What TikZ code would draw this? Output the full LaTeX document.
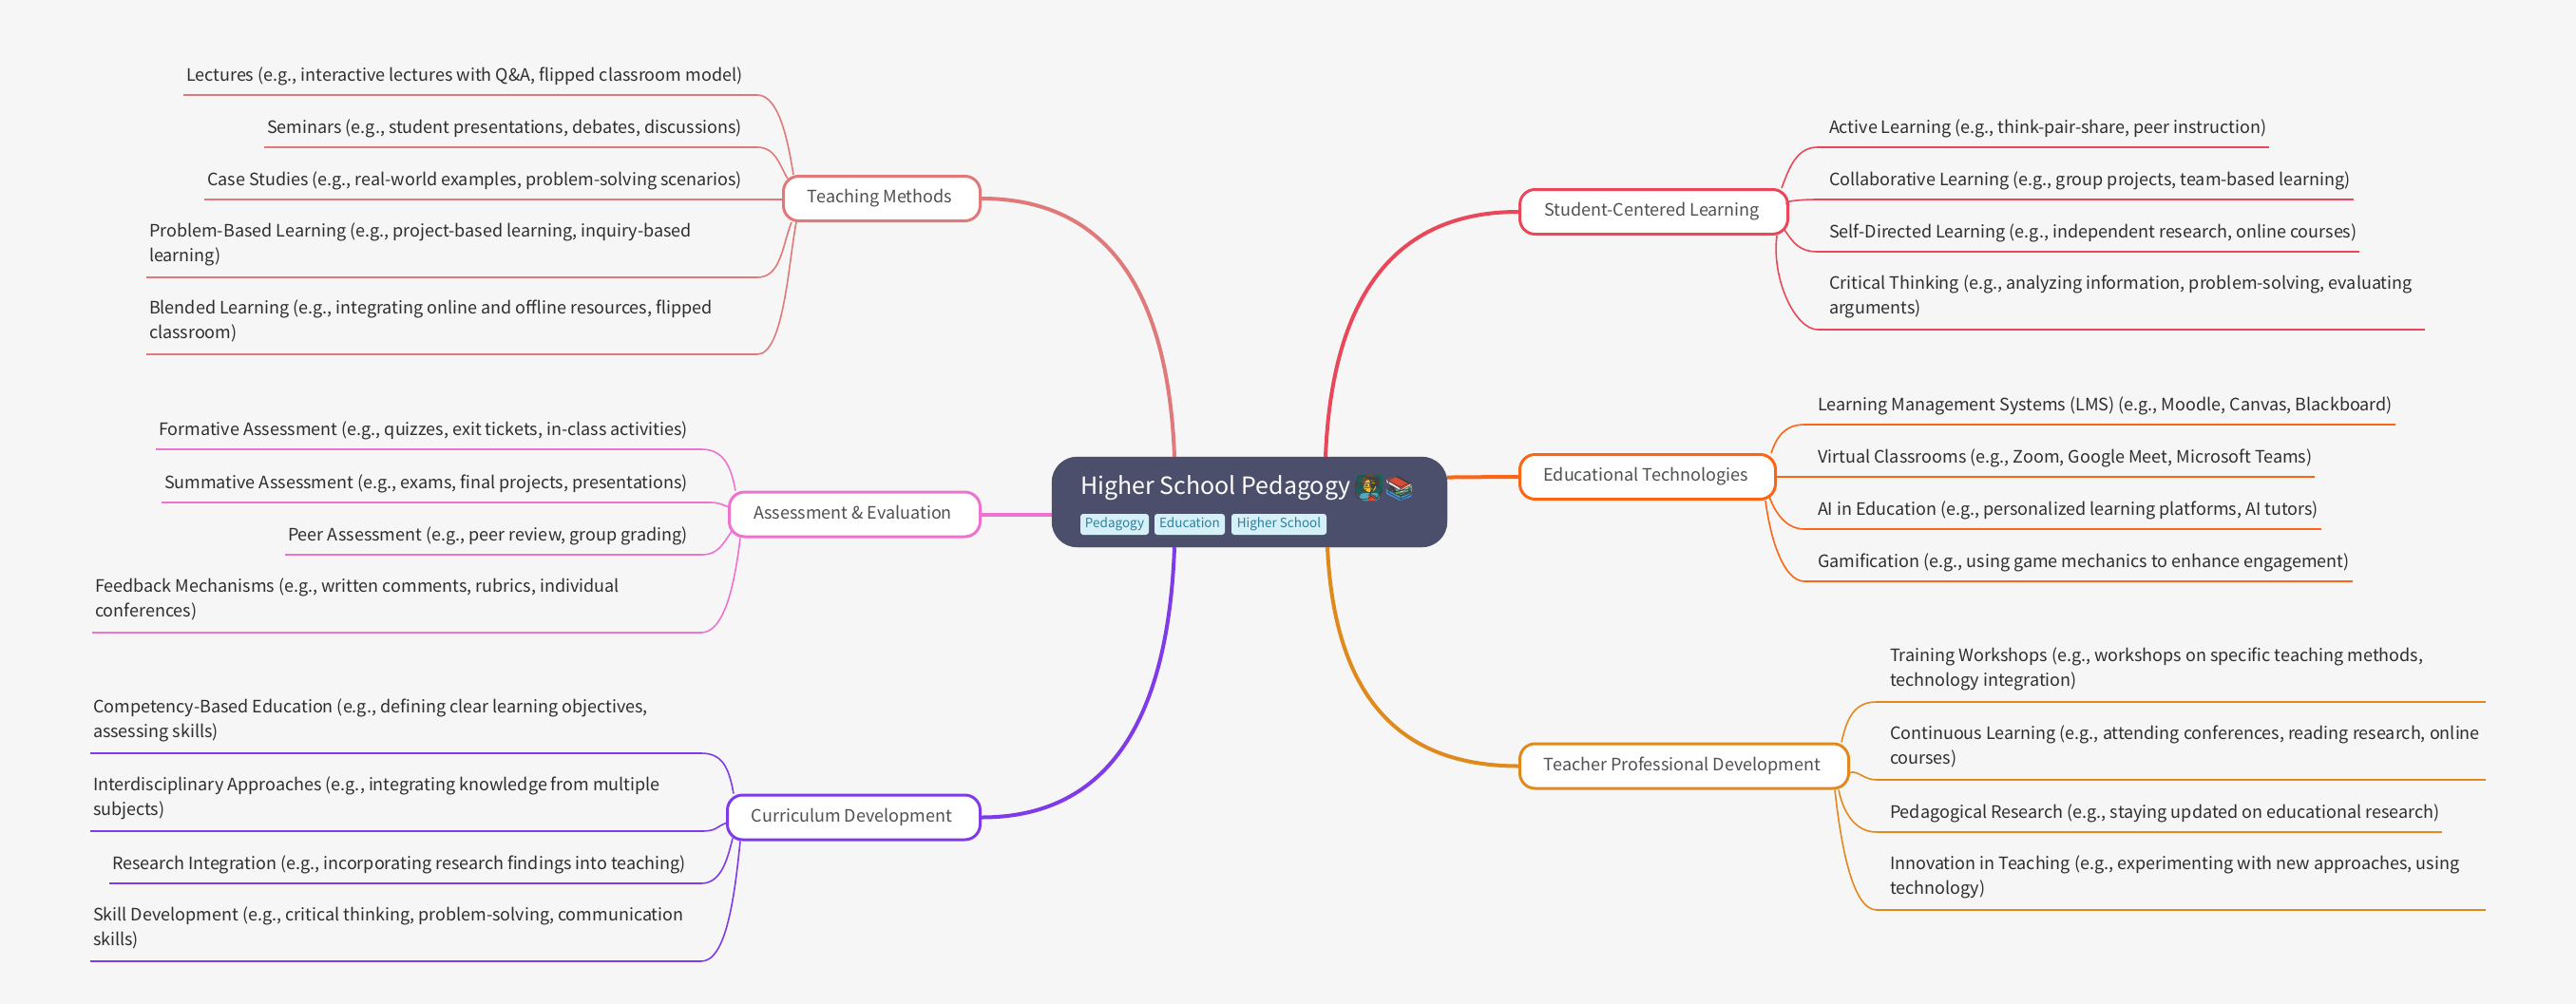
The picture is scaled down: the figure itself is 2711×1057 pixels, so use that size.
\documentclass[tikz,border=0pt]{standalone}
\usepackage{fontspec}
\setmainfont{Noto Sans CJK SC}
\newfontfamily\emo{Noto Emoji}
\definecolor{bgc}{HTML}{F6F6F6}
\definecolor{rootc}{HTML}{4C4F6B}
\definecolor{tagbg}{HTML}{D6F0F8}
\definecolor{tagfg}{HTML}{2F7F9C}
\definecolor{cteach}{HTML}{E07A7A}
\definecolor{cassess}{HTML}{EE72CF}
\definecolor{ccurr}{HTML}{7F3BE8}
\definecolor{cstud}{HTML}{E8485A}
\definecolor{cedu}{HTML}{FC6513}
\definecolor{cprof}{HTML}{E08A1E}
\definecolor{leaftext}{HTML}{2E2E2E}
\definecolor{nodetext}{HTML}{505050}
\definecolor{eboard}{HTML}{1F5F5A}
\definecolor{ejacket}{HTML}{57A6B5}
\definecolor{ehair}{HTML}{6B4A2F}
\definecolor{eface}{HTML}{FBC02D}
\definecolor{eredb}{HTML}{D84A3A}
\definecolor{eblue}{HTML}{3F8FD2}
\definecolor{egreen}{HTML}{5DA271}
\definecolor{epage}{HTML}{E8E8E8}
\tikzset{
  leaftxt/.style={anchor=base west,inner sep=0pt,outer sep=0pt,align=left,text=leaftext,font=\fontsize{18}{26}\selectfont},
  branch/.style={draw=#1,line width=3pt,fill=white,rounded corners=16pt,inner sep=0pt,text=nodetext,
     text height=13pt,text depth=4pt,font=\fontsize{18}{26}\selectfont,minimum height=47pt,
     execute at end node={\hspace{4pt}}},
  under/.style={line width=2pt},
  curve/.style={line width=1.6pt},
  trunk/.style={line width=4pt},
  tagbox/.style={fill=tagbg,rounded corners=3pt,inner sep=0pt,text=tagfg,minimum height=22pt,text height=10pt,text depth=3pt,font=\fontsize{13.5}{16}\selectfont},
  emoji/.style={anchor=base west,inner sep=0pt,text=black!75,font=\emo\fontsize{25}{28}\selectfont}
}
% [baseline above underline], name, colour, text x, underline y, left x, right x, text
\newcommand{\leafitem}[8][15]{%
  \node[leaftxt] (#2) at (#4,#5-#1) {#8};
  \coordinate (#2a) at (#6,#5);
  \coordinate (#2b) at (#7,#5);
  \draw[under,#3] (#2a) -- (#2b);
}
% name, colour, dx, second control, target: leaf on the left of its branch
\newcommand{\twig}[5]{\draw[curve,#2] (#1b) .. controls +(#3,0) and +(#4) .. (#5);}
% the same for a leaf on the right of its branch
\newcommand{\twigr}[5]{\draw[curve,#2] (#1a) .. controls +(#3,0) and +(#4) .. (#5);}
\begin{document}
\begin{tikzpicture}[x=1pt,y=-1pt]
\fill[bgc] (0,0) rectangle (2711,1057);
\useasboundingbox (0,0) rectangle (2711,1057);

\node[fill=rootc,rounded corners=27pt,minimum width=416pt,minimum height=95pt,inner sep=0pt] (root) at (1315,528.5) {};
\node[branch=cteach,minimum width=207pt] (teach) at (928,209) {Teaching Methods};
\node[branch=cassess,minimum width=264pt] (assess) at (899.5,541.5) {Assessment \& Evaluation};
\node[branch=ccurr,minimum width=266pt] (curr) at (898.5,860.5) {Curriculum Development};
\node[branch=cstud,minimum width=282pt] (stud) at (1740.5,223) {Student-Centered Learning};
\node[branch=cedu,minimum width=269pt] (edu) at (1734,502) {Educational Technologies};
\node[branch=cprof,minimum width=346pt] (prof) at (1772.5,806.5) {Teacher Professional Development};

\draw[trunk,cteach] (teach.east) .. controls +(128,0) and +(-7,-181) .. ([shift={(-79,0)}]root.north);
\draw[trunk,cstud] (stud.west) .. controls +(-128,0) and +(7,-172) .. ([shift={(80,0)}]root.north);
\draw[trunk,cedu] (edu.west) .. controls +(-35,0) and +(30,0) .. ([shift={(0,-26)}]root.east);
\draw[trunk,cassess] (assess.east) .. controls +(30,0) and +(-30,0) .. ([shift={(0,13)}]root.west);
\draw[trunk,ccurr] (curr.east) .. controls +(128,0) and +(-7,190) .. ([shift={(-79,0)}]root.south);
\draw[trunk,cprof] (prof.west) .. controls +(-128,0) and +(7,154) .. ([shift={(82,0)}]root.south);
\path[fill=rootc,rounded corners=27pt] (root.north west) rectangle (root.south east);

\node[anchor=base west,inner sep=0pt,text=white,font=\fontsize{25}{30}\selectfont] (title) at (1137,520) {Higher School Pedagogy};
% colour under the outline emoji
\fill[eboard] (1428,500) rectangle (1455,520);
\fill[ejacket,rounded corners=4pt] (1431,527) -- (1431,519) -- (1452,519) -- (1452,527) -- cycle;
\fill[ehair] (1441.5,507.5) circle (8);
\fill[eface] (1441.5,511.5) circle (6.5);
\fill[eredb] (1440,521) rectangle (1448,527);
\fill[eblue] (1459,515) -- (1474,523) -- (1486,519) -- (1485,523) -- (1473,527) -- (1459,520) -- cycle;
\fill[egreen] (1465,516) -- (1486,511) -- (1486,518) -- (1469,522) -- cycle;
\fill[epage] (1459,505) -- (1475,515) -- (1485,509) -- (1485,512) -- (1475,518) -- (1460,509) -- cycle;
\fill[eredb] (1459,505) -- (1469,501) -- (1485,509) -- (1475,515) -- cycle;
\node[emoji] (emoa) at (1425,522) {👨‍🏫};
\node[emoji] (emob) at (1457,522) {📚};
\node[tagbox,minimum width=72pt] (tag1) at (1173,552) {Pedagogy};
\node[tagbox,minimum width=74pt] (tag2) at (1252,552) {Education};
\node[tagbox,minimum width=100pt] (tag3) at (1346,552) {Higher School};

% Teaching Methods
\leafitem{ta}{cteach}{196}{100}{193}{797}{Lectures (e.g., interactive lectures with Q\&A, flipped classroom model)}
\leafitem{tb}{cteach}{281}{155}{278}{797}{Seminars (e.g., student presentations, debates, discussions)}
\leafitem{tc}{cteach}{218}{210}{215}{797}{Case Studies (e.g., real-world examples, problem-solving scenarios)}
\leafitem[16.5]{td}{cteach}{157}{292}{154}{797}{Problem-Based Learning (e.g., project-based learning, inquiry-based\\learning)}
\leafitem[16.5]{te}{cteach}{157}{373}{154}{797}{Blended Learning (e.g., integrating online and offline resources, flipped\\classroom)}
\twig{ta}{cteach}{24}{-5,-30}{[shift={(12,0)}]teach.north west}
\twig{tb}{cteach}{20}{-8,-12}{[shift={(6,4)}]teach.north west}
\draw[curve,cteach] (tcb) -- (tcb -| teach.west);
\twig{td}{cteach}{25}{-10,25}{[shift={(10,0)}]teach.south west}
\twig{te}{cteach}{28}{-8,40}{[shift={(15,0)}]teach.south west}

% Assessment & Evaluation
\leafitem{aa}{cassess}{167}{473}{164}{738}{Formative Assessment (e.g., quizzes, exit tickets, in-class activities)}
\leafitem{ab}{cassess}{173}{529}{170}{738}{Summative Assessment (e.g., exams, final projects, presentations)}
\leafitem{ac}{cassess}{303}{584}{300}{738}{Peer Assessment (e.g., peer review, group grading)}
\leafitem[16.5]{ad}{cassess}{100}{666}{97}{738}{Feedback Mechanisms (e.g., written comments, rubrics, individual\\conferences)}
\twig{aa}{cassess}{22}{-5,-28}{[shift={(8,0)}]assess.north west}
\twig{ab}{cassess}{16}{-12,-5}{[shift={(0,17)}]assess.north west}
\twig{ac}{cassess}{18}{-10,14}{[shift={(4,-7)}]assess.south west}
\twig{ad}{cassess}{24}{-6,50}{[shift={(13,0)}]assess.south west}

% Curriculum Development
\leafitem[16.5]{ca}{ccurr}{98}{793}{95}{738}{Competency-Based Education (e.g., defining clear learning objectives,\\assessing skills)}
\leafitem[16.5]{cb}{ccurr}{98}{875}{95}{738}{Interdisciplinary Approaches (e.g., integrating knowledge from multiple\\subjects)}
\leafitem{cc}{ccurr}{118}{930}{115}{738}{Research Integration (e.g., incorporating research findings into teaching)}
\leafitem[16.5]{cd}{ccurr}{98}{1012}{95}{738}{Skill Development (e.g., critical thinking, problem-solving, communication\\skills)}
\twig{ca}{ccurr}{22}{-5,-28}{[shift={(8,0)}]curr.north west}
\twig{cb}{ccurr}{16}{-12,5}{[shift={(0,31)}]curr.north west}
\twig{cc}{ccurr}{20}{-6,25}{[shift={(7,-3)}]curr.south west}
\twig{cd}{ccurr}{26}{-6,60}{[shift={(15,0)}]curr.south west}

% Student-Centered Learning
\leafitem{sa}{cstud}{1925}{155}{1913}{2388}{Active Learning (e.g., think-pair-share, peer instruction)}
\leafitem{sb}{cstud}{1925}{210}{1913}{2477}{Collaborative Learning (e.g., group projects, team-based learning)}
\leafitem{sc}{cstud}{1925}{265}{1913}{2483}{Self-Directed Learning (e.g., independent research, online courses)}
\leafitem[16.5]{sd}{cstud}{1925}{347}{1913}{2552}{Critical Thinking (e.g., analyzing information, problem-solving, evaluating\\arguments)}
\twigr{sa}{cstud}{-22}{8,-22}{[shift={(-8,0)}]stud.north east}
\twigr{sb}{cstud}{-18}{-12,-4}{[shift={(0,18)}]stud.north east}
\twigr{sc}{cstud}{-20}{9,13}{[shift={(-5,-6)}]stud.south east}
\twigr{sd}{cstud}{-24}{-6,45}{[shift={(-13,0)}]stud.south east}

% Educational Technologies
\leafitem{ea}{cedu}{1913}{447}{1899}{2521}{Learning Management Systems (LMS) (e.g., Moodle, Canvas, Blackboard)}
\leafitem{eb}{cedu}{1913}{502}{1899}{2436}{Virtual Classrooms (e.g., Zoom, Google Meet, Microsoft Teams)}
\leafitem{ec}{cedu}{1913}{557}{1899}{2443}{AI in Education (e.g., personalized learning platforms, AI tutors)}
\leafitem{ed}{cedu}{1913}{612}{1899}{2476}{Gamification (e.g., using game mechanics to enhance engagement)}
\twigr{ea}{cedu}{-20}{6,-18}{[shift={(-6,0)}]edu.north east}
\draw[curve,cedu] (eba) -- (edu.east);
\twigr{ec}{cedu}{-20}{6,16}{[shift={(-8,-4)}]edu.south east}
\twigr{ed}{cedu}{-22}{5,40}{[shift={(-12,0)}]edu.south east}

% Teacher Professional Development
\leafitem[16.5]{pa}{cprof}{1989}{739}{1975}{2616}{Training Workshops (e.g., workshops on specific teaching methods,\\technology integration)}
\leafitem[16.5]{pb}{cprof}{1989}{821}{1975}{2616}{Continuous Learning (e.g., attending conferences, reading research, online\\courses)}
\leafitem{pc}{cprof}{1989}{876}{1975}{2570}{Pedagogical Research (e.g., staying updated on educational research)}
\leafitem[16.5]{pd}{cprof}{1989}{958}{1975}{2616}{Innovation in Teaching (e.g., experimenting with new approaches, using\\technology)}
\twigr{pa}{cprof}{-22}{6,-28}{[shift={(-9,0)}]prof.north east}
\twigr{pb}{cprof}{-14}{8,-3}{[shift={(0,32)}]prof.north east}
\twigr{pc}{cprof}{-22}{5,25}{[shift={(-12,0)}]prof.south east}
\twigr{pd}{cprof}{-26}{6,55}{[shift={(-16,0)}]prof.south east}
\end{tikzpicture}
\end{document}
